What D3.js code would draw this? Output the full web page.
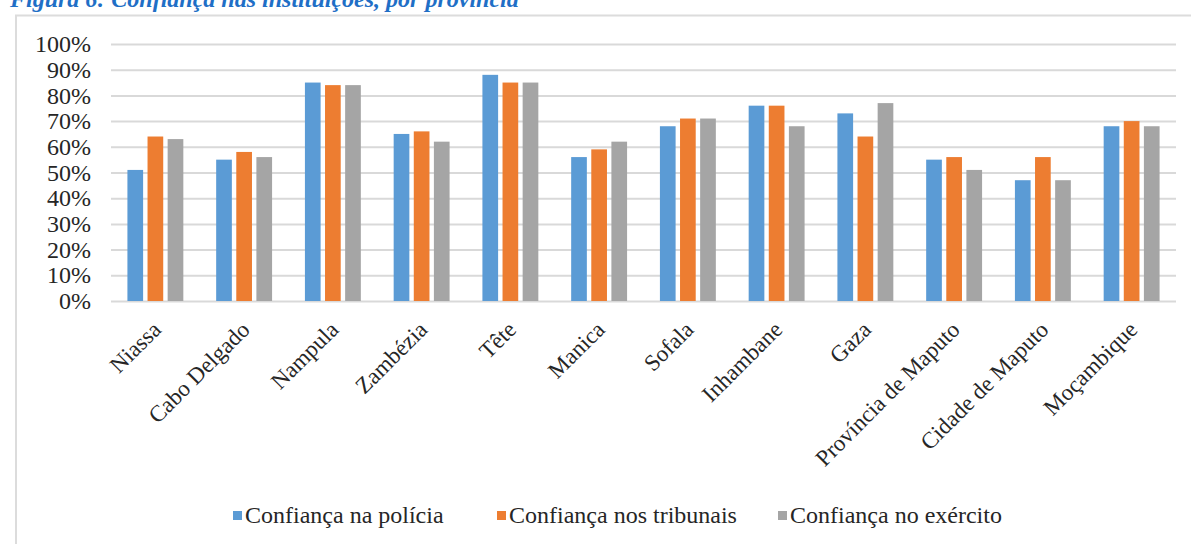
<!DOCTYPE html>
<html>
<head>
<meta charset="utf-8">
<script src="https://cdn.jsdelivr.net/npm/d3@7"></script>
<style>
  body { margin: 0; background: #fff; }
  text { font-family: "Liberation Serif", "Times New Roman", serif; }
</style>
</head>
<body>
<svg id="chart" width="1191" height="544"></svg>
<script>
// Confidence in institutions by province (share of respondents)
const provinces = ["Niassa", "Cabo Delgado", "Nampula", "Zambézia", "Tête", "Manica",
  "Sofala", "Inhambane", "Gaza", "Província de Maputo", "Cidade de Maputo", "Moçambique"];
const seriesNames = ["Confiança na polícia", "Confiança nos tribunais", "Confiança no exército"];
const policia   = [51, 55, 85, 65, 88, 56, 68, 76, 73, 55, 47, 68];
const tribunais = [64, 58, 84, 66, 85, 59, 71, 76, 64, 56, 56, 70];
const exercito  = [63, 56, 84, 62, 85, 62, 71, 68, 77, 51, 47, 68];
const yTicks = [0, 10, 20, 30, 40, 50, 60, 70, 80, 90, 100];
const titleText = "Figura 6: Confiança nas instituições, por província";

const seriesValues = [policia, tribunais, exercito];
const colors = ["#5b9bd5", "#ed7d31", "#a5a5a5"];
const serif = "'Liberation Serif', 'Times New Roman', serif";

const svg = d3.select("#chart");

// Caption above the chart frame
svg.append("text")
  .attr("x", 10).attr("y", 7)
  .attr("fill", "#1f6fc6")
  .attr("font-size", 24)
  .attr("font-weight", "bold")
  .attr("font-style", "italic")
  .text(titleText);

// Chart frame
svg.append("path")
  .attr("d", "M16,560 L16,15.5 L1200,15.5")
  .attr("fill", "none")
  .attr("stroke", "#dcdcdc")
  .attr("stroke-width", 2);

const plot = { left: 111, right: 1176, top: 44, bottom: 301 };

const x0 = d3.scaleBand()
  .domain(provinces)
  .range([plot.left, plot.right])
  .paddingInner(0.37)
  .paddingOuter(0.185);

const x1 = d3.scaleBand()
  .domain(d3.range(seriesNames.length))
  .range([0, x0.bandwidth()])
  .paddingInner(0.22);

const y = d3.scaleLinear().domain([0, 100]).range([plot.bottom, plot.top]);

// Horizontal gridlines and percentage labels
const yAxis = d3.axisLeft(y)
  .tickValues(yTicks)
  .tickSize(-(plot.right - plot.left))
  .tickPadding(20)
  .tickFormat(d => d + "%");

const gy = svg.append("g")
  .attr("transform", `translate(${plot.left},0)`)
  .call(yAxis);
gy.select(".domain").remove();
gy.selectAll(".tick line").attr("stroke", "#d9d9d9").attr("stroke-width", 2);
gy.selectAll(".tick text")
  .attr("font-family", serif)
  .attr("font-size", 24)
  .attr("fill", "#262626");

// Grouped bars
const groups = svg.append("g").selectAll("g")
  .data(provinces)
  .join("g")
  .attr("transform", d => `translate(${x0(d)},0)`);

groups.selectAll("rect")
  .data((d, i) => seriesValues.map((vals, s) => ({ s, v: vals[i] })))
  .join("rect")
  .attr("x", d => x1(d.s))
  .attr("width", x1.bandwidth())
  .attr("y", d => y(d.v))
  .attr("height", d => y(0) - y(d.v))
  .attr("fill", d => colors[d.s]);

// Rotated category labels
const xAxis = d3.axisBottom(x0).tickSize(0).tickPadding(0);
const gx = svg.append("g")
  .attr("transform", `translate(0,${plot.bottom})`)
  .call(xAxis);
gx.select(".domain").remove();
gx.selectAll(".tick text")
  .attr("font-family", serif)
  .attr("font-size", 23)
  .attr("fill", "#262626")
  .attr("text-anchor", "end")
  .attr("dy", 0)
  .attr("y", 0)
  .attr("transform", "translate(7,30) rotate(-45)");

// Legend
const legendX = [233, 497, 778];
const legend = svg.append("g").selectAll("g")
  .data(seriesNames)
  .join("g")
  .attr("transform", (d, i) => `translate(${legendX[i]},0)`);
legend.append("rect")
  .attr("x", 0).attr("y", 511)
  .attr("width", 9).attr("height", 9)
  .attr("fill", (d, i) => colors[i]);
legend.append("text")
  .attr("x", 12).attr("y", 523)
  .attr("font-size", 24)
  .attr("fill", "#262626")
  .text(d => d);
</script>
</body>
</html>
